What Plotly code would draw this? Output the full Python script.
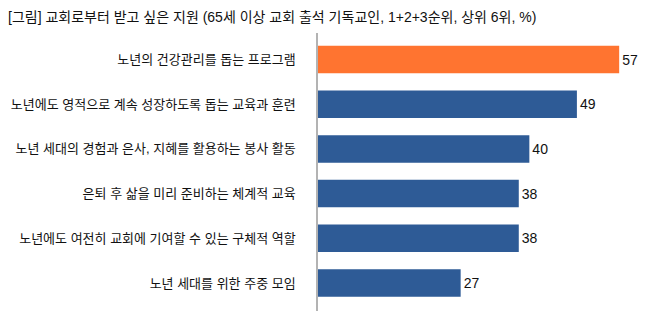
import plotly.graph_objects as go

title_text = "[그림] 교회로부터 받고 싶은 지원 (65세 이상 교회 출석 기독교인, 1+2+3순위, 상위 6위, %)"
categories = [
    "노년의 건강관리를 돕는 프로그램",
    "노년에도 영적으로 계속 성장하도록 돕는 교육과 훈련",
    "노년 세대의 경험과 은사, 지혜를 활용하는 봉사 활동",
    "은퇴 후 삶을 미리 준비하는 체계적 교육",
    "노년에도 여전히 교회에 기여할 수 있는 구체적 역할",
    "노년 세대를 위한 주중 모임",
]
values = [57, 49, 40, 38, 38, 27]
highlight_color = "#FF7430"
base_color = "#2E5B96"
colors = [highlight_color] + [base_color] * (len(values) - 1)

FONT = "Liberation Sans, Noto Sans CJK KR, sans-serif"

fig = go.Figure(
    go.Bar(
        x=values,
        y=categories,
        orientation="h",
        marker=dict(color=colors, line=dict(width=0)),
        width=0.615,
        text=[str(v) for v in values],
        textposition="outside",
        cliponaxis=False,
        textfont=dict(family=FONT, size=14, color="#111111"),
        hoverinfo="skip",
    )
)

fig.update_layout(
    width=651,
    height=320,
    margin=dict(l=318, r=7, t=33, b=9),
    paper_bgcolor="white",
    plot_bgcolor="white",
    showlegend=False,
    font=dict(family=FONT, size=13, color="#111111"),
    title=dict(
        text=title_text,
        xref="container",
        yref="container",
        x=8 / 651,
        xanchor="left",
        y=1 - 17 / 320,
        yanchor="middle",
        font=dict(family=FONT, size=14, color="#111111"),
    ),
    xaxis=dict(
        range=[0, 61.7],
        visible=False,
        showgrid=False,
        zeroline=False,
        fixedrange=True,
    ),
    yaxis=dict(
        categoryorder="array",
        categoryarray=categories,
        range=[5.626, -0.593],
        showgrid=False,
        zeroline=False,
        showline=True,
        linecolor="#b3b3b3",
        linewidth=1.5,
        ticks="",
        ticklabelstandoff=18,
        tickfont=dict(family=FONT, size=13, color="#111111"),
        fixedrange=True,
    ),
)

fig.write_html("out.html")
